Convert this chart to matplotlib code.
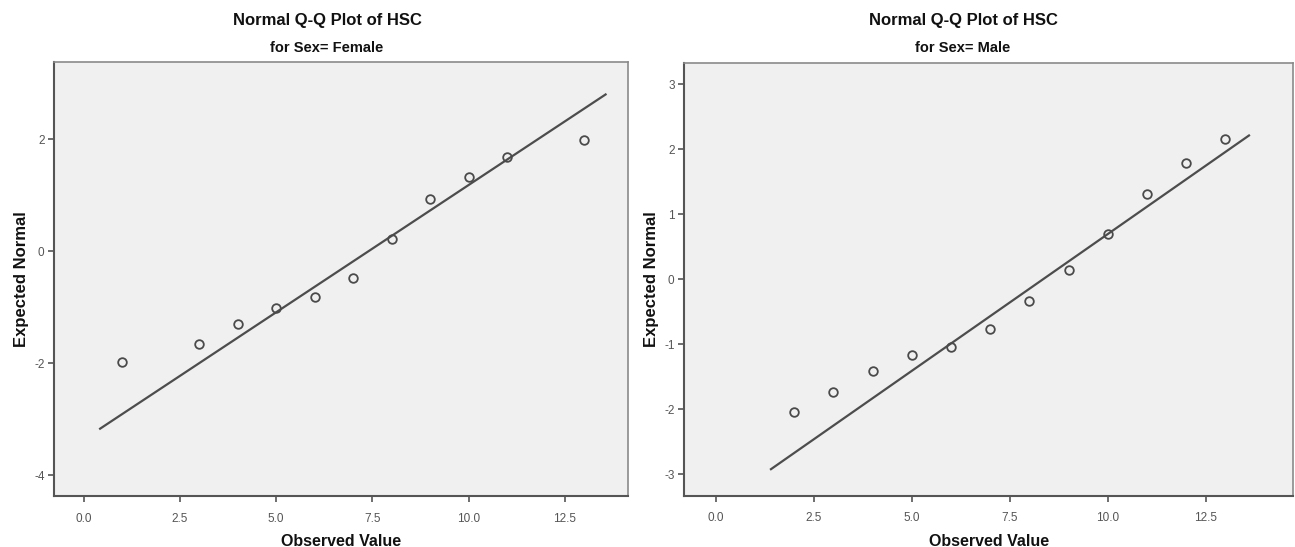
import matplotlib
matplotlib.use("Agg")
import matplotlib.pyplot as plt
import numpy as np

# ---- data ----
female_observed = [1, 3, 4, 5, 6, 7, 8, 9, 10, 11, 13]
female_expected = [-1.98, -1.66, -1.30, -1.01, -0.83, -0.49, 0.22, 0.93, 1.32, 1.68, 1.98]
female_mean, female_sd = 7.41, 2.20
female_line_range = [0.43, 13.56]

male_observed = [2, 3, 4, 5, 6, 7, 8, 9, 10, 11, 12, 13]
male_expected = [-2.04, -1.73, -1.41, -1.17, -1.04, -0.76, -0.33, 0.14, 0.69, 1.31, 1.78, 2.15]
male_mean, male_sd = 8.35, 2.375
male_line_range = [1.41, 13.60]

x_ticks = [0.0, 2.5, 5.0, 7.5, 10.0, 12.5]
female_y_ticks = [-4, -2, 0, 2]
male_y_ticks = [-3, -2, -1, 0, 1, 2, 3]

title = "Normal Q-Q Plot of HSC"
subtitles = ["for Sex= Female", "for Sex= Male"]
xlabel = "Observed Value"
ylabel = "Expected Normal"

FONT = ["Liberation Sans", "DejaVu Sans"]
plt.rcParams['font.family'] = FONT

W, H = 1295, 547
fig = plt.figure(figsize=(W / 100, H / 100), dpi=100)
fig.patch.set_facecolor("white")


def px_axes(x0, y0, x1, y1):
    return fig.add_axes([x0 / W, 1 - y1 / H, (x1 - x0) / W, (y1 - y0) / H])


def style(ax, xlim, ylim, yticks):
    ax.set_facecolor("#f0f0f0")
    ax.set_xlim(*xlim)
    ax.set_ylim(*ylim)
    ax.set_xticks(x_ticks)
    ax.set_xticklabels([f"{t:.1f}" for t in x_ticks])
    ax.set_yticks(yticks)
    ax.set_yticklabels([str(t) for t in yticks])
    ax.tick_params(direction="out", length=4, width=1.2, colors="#555555",
                   labelsize=8.5)
    ax.tick_params(axis="x", pad=8)
    ax.tick_params(axis="y", pad=3)
    for s in ["left", "bottom"]:
        ax.spines[s].set_color("#555555")
        ax.spines[s].set_linewidth(1.5)
    for s in ["top", "right"]:
        ax.spines[s].set_color("#8a8a8a")
        ax.spines[s].set_linewidth(1.2)
    ax.set_xlabel(xlabel, fontsize=11.5, fontweight="bold", color="#111111", labelpad=7)
    ax.set_ylabel(ylabel, fontsize=12, fontweight="bold", color="#111111", labelpad=4)


panels = [
    dict(box=(54.3, 62, 628.3, 496), xlim=(-0.76, 14.15), ylim=(-4.375, 3.375),
         yticks=female_y_ticks, obs=female_observed, exp=female_expected,
         mean=female_mean, sd=female_sd, lr=female_line_range, sub=subtitles[0], cx=327),
    dict(box=(684.3, 62.7, 1293.3, 495.7), xlim=(-0.8, 14.73), ylim=(-3.33, 3.33),
         yticks=male_y_ticks, obs=male_observed, exp=male_expected,
         mean=male_mean, sd=male_sd, lr=male_line_range, sub=subtitles[1], cx=963),
]

for p in panels:
    ax = px_axes(*p["box"])
    style(ax, p["xlim"], p["ylim"], p["yticks"])
    lx = np.array(p["lr"])
    ax.plot(lx, (lx - p["mean"]) / p["sd"], color="#4d4d4d", lw=1.6, zorder=2)
    ax.plot(p["obs"], p["exp"], linestyle="none", marker="o", ms=6.2,
            mfc="none", mec="#4a4a4a", mew=1.3, zorder=3)
    fig.text(p["cx"] / W, 1 - 20 / H, title, ha="center", va="center",
             fontsize=12, fontweight="bold", color="#111111")
    fig.text(p["cx"] / W, 1 - 48 / H, p["sub"], ha="center", va="center",
             fontsize=10.5, fontweight="bold", color="#111111")

fig.savefig("out.png", dpi=100, facecolor="white")
